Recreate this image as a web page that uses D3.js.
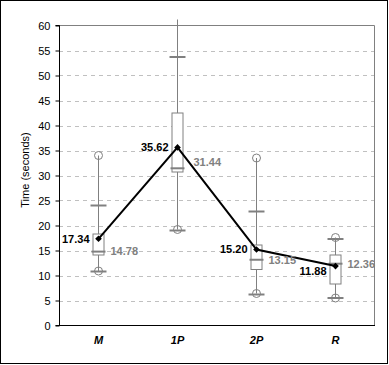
<!DOCTYPE html>
<html><head><meta charset="utf-8">
<script src="https://cdn.jsdelivr.net/npm/d3@7"></script>
<style>body{margin:0;background:#fff}svg{display:block;font-family:"Liberation Sans",Arial,sans-serif}</style>
</head><body><svg id="c" width="389" height="365"></svg>
<script>
const categories = ["M", "1P", "2P", "R"];
const means   = [17.34, 35.62, 15.20, 11.88];
const medians = [14.78, 31.44, 13.15, 12.36];
const q1      = [14.1, 30.7, 11.2, 8.3];
const q3      = [18.3, 42.5, 16.1, 14.1];
const capLow  = [10.8, 19.0, 6.2, 5.5];
const capHigh = [24.0, 53.7, 22.8, 17.3];
const minVals = [10.9, 19.2, 6.4, 5.5];
const maxVals = [34.0, 65.0, 33.5, 17.6];
const yTicks  = [0,5,10,15,20,25,30,35,40,45,50,55,60];
const yTitle  = "Time (seconds)";

const svg = d3.select("#c");
const L=59, R=374, T=25.5, B=325.5;
const x = d3.scaleBand().domain(categories).range([L,R]);
const y = d3.scaleLinear().domain([0,60]).range([B,T]);
const cx = c => Math.round(x(c)+x.bandwidth()/2)+0.5;
const gray="#808080";

svg.append("rect").attr("x",0.5).attr("y",0.5).attr("width",387).attr("height",363)
  .attr("fill","#fff").attr("stroke","#000");

svg.append("g").selectAll("line").data(yTicks.filter(t=>t>0&&t<60)).join("line")
  .attr("x1",L).attr("x2",R).attr("y1",d=>Math.round(y(d))+0.5).attr("y2",d=>Math.round(y(d))+0.5)
  .attr("stroke","#c0c0c0").attr("stroke-dasharray","4,4");
svg.append("path").attr("d",`M${L},${T}H${R+0.5}V${B}`).attr("fill","none").attr("stroke",gray);

const ya = svg.append("g").attr("transform",`translate(${L+0.5},0)`)
  .call(d3.axisLeft(y).tickValues(yTicks).tickSize(4).tickPadding(5));
ya.selectAll("path,line").attr("stroke","#000");
ya.select(".domain").attr("d",`M-4,${T}H0V${B}H-4`);
ya.selectAll("text").attr("font-size",11).attr("font-family","Liberation Sans, Arial").attr("fill","#000");

svg.append("line").attr("x1",L).attr("x2",R+1).attr("y1",B).attr("y2",B).attr("stroke","#000");
svg.append("g").selectAll("text").data(categories).join("text")
  .attr("x",d=>cx(d)).attr("y",344).attr("text-anchor","middle")
  .attr("font-size",11).attr("font-weight","bold").attr("font-style","italic").text(d=>d);

svg.append("text").attr("transform","translate(29,170) rotate(-90)").attr("text-anchor","middle")
  .attr("font-size",11).text(yTitle);

const clipId="clipW";
svg.append("clipPath").attr("id",clipId).append("rect").attr("x",L).attr("y",T-6).attr("width",R-L).attr("height",B-T+6);
const g = svg.append("g");
categories.forEach((c,i)=>{
  const X=cx(c);
  g.append("line").attr("x1",X).attr("x2",X).attr("y1",y(minVals[i])).attr("y2",y(maxVals[i]))
    .attr("stroke",gray).attr("clip-path",`url(#${clipId})`);
  [capLow[i],capHigh[i]].forEach(v=>{
    g.append("line").attr("x1",X-8).attr("x2",X+8).attr("y1",y(v)).attr("y2",y(v))
      .attr("stroke",gray).attr("stroke-width",2);
  });
  [minVals[i],maxVals[i]].forEach(v=>{
    if(v<=60) g.append("circle").attr("cx",X).attr("cy",y(v)).attr("r",4)
      .attr("fill","none").attr("stroke",gray);
  });
  g.append("rect").attr("x",X-5.5).attr("width",11).attr("y",y(q3[i])).attr("height",y(q1[i])-y(q3[i]))
    .attr("fill","#fff").attr("stroke",gray);
  g.append("line").attr("x1",X-7).attr("x2",X+7).attr("y1",y(medians[i])).attr("y2",y(medians[i]))
    .attr("stroke",gray).attr("stroke-width",2);
});

const line = d3.line().x((d,i)=>cx(categories[i])).y(d=>y(d));
svg.append("path").attr("d",line(means)).attr("fill","none").attr("stroke","#000").attr("stroke-width",2);
svg.append("g").selectAll("path").data(means).join("path")
  .attr("d",d3.symbol(d3.symbolDiamond2,28))
  .attr("transform",(d,i)=>`translate(${cx(categories[i])},${y(d)})`).attr("fill","#000");

// median labels (nudged clear of the mean line where needed)
svg.append("g").selectAll("text").data(medians).join("text")
  .attr("x",(d,i)=>cx(categories[i]) + (i===1 ? 16 : 12)).attr("y",(d,i)=>y(d) - (i===1 ? 6 : 0)).attr("dy","0.35em")
  .attr("font-size",11).attr("font-weight","bold").attr("fill",gray).text(d=>d.toFixed(2));
// mean labels
svg.append("g").selectAll("text").data(means).join("text")
  .attr("x",(d,i)=>cx(categories[i])-9).attr("y",d=>y(d)).attr("dy",(d,i)=> i===3 ? "0.8em" : "0.35em")
  .attr("text-anchor","end")
  .attr("font-size",11).attr("font-weight","bold").attr("fill","#000").text(d=>d.toFixed(2));
</script></body></html>
